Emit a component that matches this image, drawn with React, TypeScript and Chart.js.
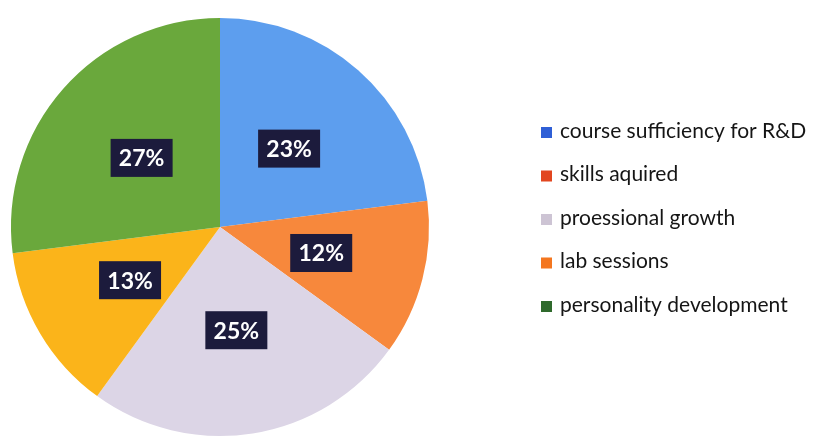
import React, { useEffect, useRef } from "react";
import { Chart, registerables } from "chart.js";

Chart.register(...registerables);

const categories = [
  "course sufficiency for R&D",
  "skills aquired",
  "proessional growth",
  "lab sessions",
  "personality development",
];
const shares = [23, 12, 25, 13, 27];
const sliceColors = ["#5d9eee", "#f7883c", "#dcd5e6", "#fbb41a", "#6aa83c"];
const legendColors = ["#2f5fd6", "#e2461f", "#cdc4d4", "#f4761f", "#2f6a2c"];

const labelPlugin = {
  id: "pctLabels",
  afterDatasetsDraw(chart: any) {
    const ctx = chart.ctx;
    const meta = chart.getDatasetMeta(0);
    ctx.save();
    ctx.font = "bold 23px Lato";
    ctx.textAlign = "center";
    ctx.textBaseline = "middle";
    meta.data.forEach((arc: any, i: number) => {
      const p = arc.tooltipPosition();
      const w = 62;
      const h = 38;
      ctx.fillStyle = "#1c1b3c";
      ctx.fillRect(p.x - w / 2, p.y - h / 2, w, h);
      ctx.fillStyle = "#ffffff";
      ctx.fillText(shares[i] + "%", p.x, p.y + 1);
    });
    ctx.restore();
  },
};

const legendPlugin = {
  id: "sideLegend",
  afterDraw(chart: any) {
    const ctx = chart.ctx;
    ctx.save();
    ctx.font = "21px Lato";
    ctx.textAlign = "left";
    ctx.textBaseline = "middle";
    const x0 = 541;
    const y0 = 131;
    const step = 43.5;
    categories.forEach((c, i) => {
      const y = y0 + i * step;
      ctx.fillStyle = legendColors[i];
      ctx.fillRect(x0, y - 4, 11, 11);
      ctx.fillStyle = "#151515";
      ctx.fillText(c, x0 + 19, y);
    });
    ctx.restore();
  },
};

export default function App() {
  const ref = useRef<HTMLCanvasElement>(null);
  useEffect(() => {
    document.body.style.margin = "0";
    const chart = new Chart(ref.current!, {
      type: "pie",
      data: {
        labels: categories,
        datasets: [
          {
            data: shares,
            backgroundColor: sliceColors,
            borderWidth: 0,
          },
        ],
      },
      options: {
        animation: false,
        responsive: false,
        layout: { padding: { left: 11, top: 18, right: 389, bottom: 3 } },
        plugins: {
          legend: { display: false },
          tooltip: { enabled: false },
        },
      },
      plugins: [labelPlugin, legendPlugin],
    });
    return () => chart.destroy();
  }, []);
  return (
    <div style={{ width: 818, height: 439, background: "#ffffff" }}>
      <canvas ref={ref} width={818} height={439} />
    </div>
  );
}
